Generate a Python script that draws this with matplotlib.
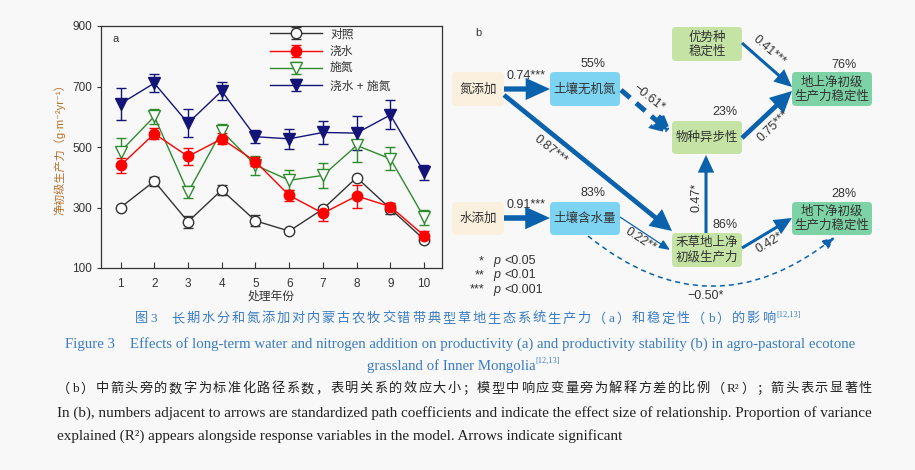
import matplotlib
matplotlib.use('Agg')
import matplotlib.pyplot as plt
import numpy as np
from matplotlib.patches import FancyBboxPatch, FancyArrowPatch, ArrowStyle

plt.rcParams['font.family'] = ['Liberation Sans', 'Noto Sans CJK SC', 'DejaVu Sans']
plt.rcParams['axes.unicode_minus'] = False

# ---- panel a data: NPP per treatment year ----
years = np.arange(1, 11)
ctrl = [300, 387, 253, 358, 256, 222, 295, 399, 296, 194]
ctrl_err = [4, 15, 20, 18, 18, 5, 8, 5, 18, 8]
water = [439, 544, 469, 527, 452, 340, 281, 338, 303, 207]
water_err = [24, 19, 29, 18, 16, 19, 24, 38, 11, 14]
nitro = [485, 601, 350, 553, 440, 390, 406, 505, 461, 267]
nitro_err = [44, 24, 20, 22, 31, 33, 42, 53, 38, 24]
wn = [643, 711, 579, 685, 534, 527, 548, 546, 606, 416]
wn_err = [53, 30, 46, 30, 21, 34, 37, 57, 48, 24]
series_names = ['对照', '浇水', '施氮', '浇水 + 施氮']
yticks = [100, 300, 500, 700, 900]

# ---- panel b: path model ----
r2 = {'soilN': '55%', 'async': '23%', 'above': '76%',
      'soilW': '83%', 'grass': '86%', 'below': '28%'}
coefs = {'N_soilN': '0.74***', 'W_soilW': '0.91***', 'soilN_async': '\u22120.61*',
         'N_grass': '0.87***', 'soilW_grass': '0.22**', 'grass_async': '0.47*',
         'grass_below': '0.42*', 'dom_above': '0.41***', 'async_above': '0.75***',
         'soilW_below': '\u22120.50*'}

BG = '#f8f8f8'
fig = plt.figure(figsize=(9.15, 4.70), dpi=100, facecolor=BG)

# overlay in pixel coordinates for panel b and captions
ov = fig.add_axes([0, 0, 1, 1])
ov.set_xlim(0, 915)
ov.set_ylim(470, 0)
ov.axis('off')

# ================= panel a =================
ax = fig.add_axes([101/915, 1-268/470, 341/915, 242/470], facecolor=BG)
styles = [
    (ctrl, ctrl_err, '#333333', 'o', 'white', 7.5),
    (nitro, nitro_err, '#2e8b2e', 'v', 'white', 8),
    (water, water_err, '#ff0000', 'o', '#ff0000', 7.5),
    (wn, wn_err, '#141478', 'v', '#141478', 8),
]
order_labels = [series_names[0], series_names[2], series_names[1], series_names[3]]
handles = {}
for (vals, err, col, mk, fc, ms), lab in zip(styles, order_labels):
    h = ax.errorbar(years, vals, yerr=err, color=col, marker=mk, mfc=fc, mec=col,
                    ms=ms, lw=1.0, elinewidth=1.0, capsize=3.5, capthick=1.0,
                    mew=1.0, label=lab)
    handles[lab] = h
ax.set_xlim(0.42, 10.53)
ax.set_ylim(100, 900)
ax.set_xticks(years)
ax.set_yticks(yticks)
ax.tick_params(axis='x', direction='in', length=4, labelsize=8.5, colors='#333333', pad=7)
ax.tick_params(axis='y', direction='out', length=3, labelsize=8.5, colors='#333333')
for s in ax.spines.values():
    s.set_color('#333333')
    s.set_linewidth(0.9)
ax.set_xlabel('处理年份', fontsize=8.5, color='#333333', labelpad=1)
ax.set_ylabel('净初级生产力（g·m\u207b\u00b2yr\u207b\u00b9）', fontsize=8, color='#b5702a', labelpad=5)
ax.text(0.035, 0.965, 'a', transform=ax.transAxes, fontsize=8, color='#333333', va='top')
leg = ax.legend([handles[n] for n in series_names], series_names, loc='upper left',
                bbox_to_anchor=(0.495, 0.99), frameon=False, fontsize=8.5,
                handlelength=4.4, handletextpad=0.7, labelspacing=0.45,
                borderaxespad=0, borderpad=0)
for t in leg.get_texts():
    t.set_color('#333333')

# ================= panel b =================
ov.text(478, 33, 'b', fontsize=8, color='#333333', ha='center', va='center')

BEIGE, BLUE, LGREEN, GREEN = '#fbf0dd', '#7dd3f2', '#c4e3a4', '#7dd3a5'
boxes = {
    'N': (452, 72, 504, 106, BEIGE, '氮添加'),
    'soilN': (550, 72, 620, 106, BLUE, '土壤无机氮'),
    'dom': (672, 27, 742, 61, LGREEN, '优势种\n稳定性'),
    'above': (792, 72, 872, 106, GREEN, '地上净初级\n生产力稳定性'),
    'async': (672, 121, 742, 154, LGREEN, '物种异步性'),
    'W': (452, 202, 504, 235, BEIGE, '水添加'),
    'soilW': (550, 202, 620, 235, BLUE, '土壤含水量'),
    'grass': (672, 233, 742, 267, LGREEN, '禾草地上净\n初级生产力'),
    'below': (792, 202, 872, 235, GREEN, '地下净初级\n生产力稳定性'),
}
for key, (x0, y0, x1, y1, col, txt) in boxes.items():
    ov.add_patch(FancyBboxPatch((x0, y0), x1 - x0, y1 - y0,
                                boxstyle='round,pad=0,rounding_size=4',
                                fc=col, ec='none', zorder=2))
    ov.text((x0 + x1) / 2, (y0 + y1) / 2 + 0.5, txt, ha='center', va='center',
            fontsize=9, color='#333333', linespacing=1.2, zorder=3)

r2_pos = {'soilN': (593, 64), 'async': (725, 112), 'above': (844, 65),
          'soilW': (593, 193), 'grass': (725, 225), 'below': (844, 194)}
for k, (x, y) in r2_pos.items():
    ov.text(x, y, r2[k], ha='center', va='center', fontsize=9, color='#333333')

ARROW = '#0a62ad'
# (start, end, shaft lw pt, head length pt, head half-width pt, dashed, rad)
arrows = {
    'N_soilN': ((504, 89), (550, 89), 3.8, 11, 5, None, 0),
    'W_soilW': ((504, 218), (550, 218), 4.0, 11, 5, None, 0),
    'soilN_async': ((621, 90), (672, 134), 3.6, 10, 5, (2.4, 1.6), 0),
    'N_grass': ((504, 95), (672, 231), 3.4, 10, 5, None, 0),
    'soilW_grass': ((620, 217), (670, 250), 0.9, 6.5, 2.8, None, 0),
    'grass_async': ((706, 233), (706, 155), 2.2, 9, 4.2, None, 0),
    'grass_below': ((742, 248), (792, 218), 2.2, 9, 4.2, None, 0),
    'dom_above': ((742, 43), (792, 87), 2.2, 9, 4.2, None, 0),
    'async_above': ((742, 138), (792, 91), 3.4, 10, 5, None, 0),
    'soilW_below': ((588, 236), (835, 237), 1.1, 7.5, 3.2, (3.3, 2.6), 0.4),
}
for k, (p0, p1, lw, hl, hw, dash, rad) in arrows.items():
    ls = '-' if dash is None else (0, dash)
    arr = FancyArrowPatch(p0, p1, arrowstyle=ArrowStyle('-|>', head_length=hl, head_width=hw),
                          connectionstyle='arc3,rad=%s' % rad, mutation_scale=1,
                          lw=lw, color=ARROW, linestyle=ls, shrinkA=0, shrinkB=0,
                          joinstyle='miter', capstyle='butt', zorder=4)
    ov.add_patch(arr)

coef_pos = {
    'N_soilN': (526, 76, 0), 'W_soilW': (526, 205, 0),
    'soilN_async': (649, 98, -38), 'N_grass': (550, 150, -39),
    'soilW_grass': (640, 240, -33), 'grass_async': (697, 197, 90),
    'grass_below': (769, 243, 31), 'dom_above': (769, 51, -41),
    'async_above': (773, 126, 44), 'soilW_below': (706, 296, 0),
}
for k, (x, y, rot) in coef_pos.items():
    ov.text(x, y, coefs[k], ha='center', va='center', rotation=rot,
            rotation_mode='anchor', fontsize=9, color='#333333', zorder=5)

sig_stars = ['*', '**', '***']
sig_levels = ['<0.05', '<0.01', '<0.001']
for i, (st, lv) in enumerate(zip(sig_stars, sig_levels)):
    y = 261 + i * 14.3
    ov.text(484, y, st, ha='right', va='center', fontsize=9, color='#333333')
    ov.text(493, y, 'p', ha='left', va='center', fontsize=9, style='italic', color='#333333')
    ov.text(504, y, lv, ha='left', va='center', fontsize=9, color='#333333')

# ================= captions =================
CAP = '#3a7cc3'
serif = ['Liberation Serif', 'Noto Sans CJK SC', 'DejaVu Serif']
renderer = fig.canvas.get_renderer()


def fit_width(t, width_px):
    # shrink/grow a caption line so it spans the same width as in the figure
    w = t.get_window_extent(renderer).width
    t.set_fontsize(t.get_fontsize() * width_px / w)


def tracked(x0, width_px, y, tokens, fs, color):
    # Chinese caption lines are set with letter spacing: place glyph by glyph
    em = fs * 100 / 72.
    cells = []
    for tok in tokens:
        if tok == ' ':
            cells.append((None, 0.3 * em))
            continue
        t = ov.text(0, y, tok, ha='center', va='center', fontsize=fs, color=color, family=serif)
        if len(tok) == 1 and ord(tok) > 0x2e80:
            w = em
        else:
            w = t.get_window_extent(renderer).width + 1
        cells.append((t, w))
    gap = (width_px - sum(w for _, w in cells)) / max(len(cells) - 1, 1)
    x = x0
    for t, w in cells:
        if t is not None:
            t.set_x(x + w / 2)
        x += w + gap
    return x - gap


end1 = tracked(135, 640, 319, list('图3  长期水分和氮添加对内蒙古农牧交错带典型草地生态系统生产力（a）和稳定性（b）的影响'),
               9.5, CAP)
ov.text(end1 + 1, 315, '[12,13]', ha='left', va='center', fontsize=6, color=CAP, family=serif)

t2 = ov.text(65, 344, 'Figure 3    Effects of long-term water and nitrogen addition on productivity (a) '
             'and productivity stability (b) in agro-pastoral ecotone',
             ha='left', va='center', fontsize=10.8, color=CAP, family=serif)
fit_width(t2, 793)
t3 = ov.text(367, 366, 'grassland of Inner Mongolia', ha='left', va='center', fontsize=t2.get_fontsize(),
             color=CAP, family=serif)
ov.annotate('[12,13]', xy=(1, 0.85), xycoords=t3, ha='left', va='center', fontsize=6,
            color=CAP, family=serif)

line4 = (list('（b）中箭头旁的数字为标准化路径系数，表明关系的效应大小；模型中响应变量旁为解释方差的比例（')
         + ['R\u00b2'] + list('）；箭头表示显著性'))
tracked(57, 815, 389, line4, 9.5, '#222222')
t5 = ov.text(57, 413, 'In (b), numbers adjacent to arrows are standardized path coefficients and indicate '
             'the effect size of relationship. Proportion of variance',
             ha='left', va='center', fontsize=10.8, color='#222222', family=serif)
fit_width(t5, 815)
ov.text(57, 436, 'explained (R\u00b2) appears alongside response variables in the model. Arrows indicate significant',
        ha='left', va='center', fontsize=t5.get_fontsize(), color='#222222', family=serif)

fig.savefig('out.png', dpi=100, facecolor=BG)
